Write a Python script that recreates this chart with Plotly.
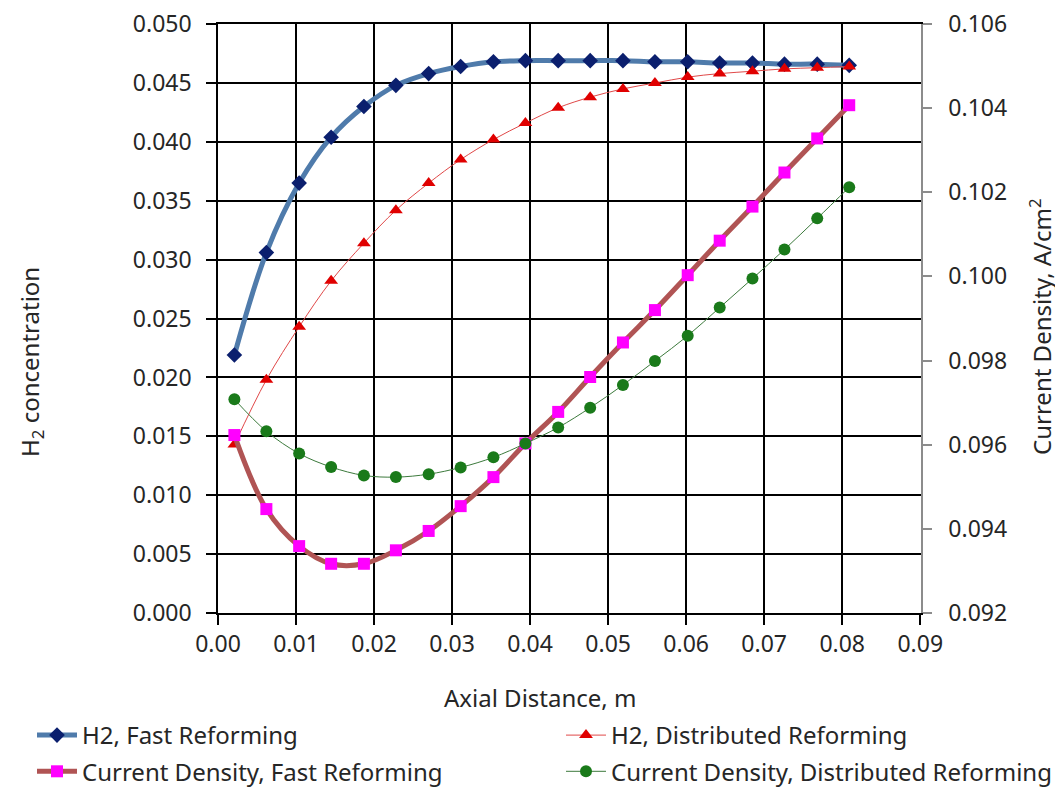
import plotly.graph_objects as go

# Axial positions (m)
x_m = [0.0021, 0.0062, 0.0104, 0.0145, 0.0187, 0.0228, 0.0270, 0.0311, 0.0353, 0.0394,
       0.0436, 0.0477, 0.0519, 0.0560, 0.0602, 0.0643, 0.0685, 0.0726, 0.0768, 0.0809]

# H2 concentration (left axis)
h2_fast = [0.0219, 0.0306, 0.0365, 0.0404, 0.0430, 0.0448, 0.0458, 0.0464, 0.0468, 0.0469,
           0.0469, 0.0469, 0.0469, 0.0468, 0.0468, 0.0467, 0.0467, 0.0466, 0.0466, 0.0465]
h2_dist = [0.0143, 0.0198, 0.0243, 0.0282, 0.0314, 0.0342, 0.0365, 0.0385, 0.0402, 0.0416,
           0.0429, 0.0438, 0.0445, 0.0450, 0.0455, 0.0458, 0.0460, 0.0462, 0.0463, 0.0464]

# Current density, A/cm2 (right axis)
cd_fast = [0.09623, 0.09447, 0.09359, 0.09317, 0.09317, 0.09349, 0.09395, 0.09454, 0.09523, 0.09603,
           0.09678, 0.09761, 0.09843, 0.09920, 0.10003, 0.10085, 0.10166, 0.10247, 0.10328, 0.10407]
cd_dist = [0.09708, 0.09632, 0.09579, 0.09547, 0.09527, 0.09523, 0.09530, 0.09546, 0.09570, 0.09603,
           0.09641, 0.09688, 0.09742, 0.09799, 0.09859, 0.09926, 0.09995, 0.10064, 0.10138, 0.10212]

x_ticks = [0.00, 0.01, 0.02, 0.03, 0.04, 0.05, 0.06, 0.07, 0.08, 0.09]
y_ticks = [0.000, 0.005, 0.010, 0.015, 0.020, 0.025, 0.030, 0.035, 0.040, 0.045, 0.050]
y2_ticks = [0.092, 0.094, 0.096, 0.098, 0.100, 0.102, 0.104, 0.106]

FONT = "Noto Sans"
TXT = "#262626"
FS_TICK = 23
FS_TEXT = 24
# the page body adds an 8px offset, so the figure is sized to fit the window
W, H = 1055, 783

fig = go.Figure()
fig.add_trace(go.Scatter(
    x=x_m, y=h2_fast, name="H2, Fast Reforming", mode="lines+markers",
    legend="legend", legendgroup="a",
    line=dict(color="#4f7bab", width=5, shape="spline"),
    marker=dict(symbol="diamond", size=12, color="#0b1f6e")))
fig.add_trace(go.Scatter(
    x=x_m, y=h2_dist, name="H2, Distributed Reforming", mode="lines+markers",
    legend="legend2", legendgroup="b",
    line=dict(color="#e04848", width=1, shape="spline"),
    marker=dict(symbol="triangle-up", size=12, color="#e00000")))
fig.add_trace(go.Scatter(
    x=x_m, y=cd_fast, name="Current Density, Fast Reforming", mode="lines+markers",
    yaxis="y2", legend="legend", legendgroup="c",
    line=dict(color="#b05454", width=5, shape="spline"),
    marker=dict(symbol="square", size=12, color="#ff00ff")))
fig.add_trace(go.Scatter(
    x=x_m, y=cd_dist, name="Current Density, Distributed Reforming", mode="lines+markers",
    yaxis="y2", legend="legend2", legendgroup="d",
    line=dict(color="#3c7a3c", width=1, shape="spline"),
    marker=dict(symbol="circle", size=12, color="#1a7a1a")))

legend_common = dict(
    orientation="v", xref="container", yref="container", xanchor="left", yanchor="top",
    y=1 - 705 / H, itemwidth=40, tracegroupgap=2,
    font=dict(family=FONT, size=FS_TEXT, color=TXT),
    bgcolor="rgba(0,0,0,0)", borderwidth=0,
)

plot_left, plot_right, plot_top, plot_bottom = 210, 913, 16, 605

fig.update_layout(
    width=W, height=H,
    margin=dict(l=plot_left, r=W - plot_right, t=plot_top, b=H - plot_bottom, autoexpand=False),
    paper_bgcolor="white", plot_bgcolor="white",
    font=dict(family=FONT, size=FS_TICK, color=TXT),
    showlegend=True,
    legend=dict(legend_common, x=24 / W),
    legend2=dict(legend_common, x=553 / W),
    xaxis=dict(
        range=[0, 0.0901], tickmode="array", tickvals=x_ticks, tickformat=".2f",
        showgrid=True, gridcolor="black", gridwidth=1.5,
        showline=True, linecolor="black", linewidth=1.5, mirror=True,
        ticks="outside", ticklen=10, tickcolor="black", tickwidth=1.5,
        zeroline=False, ticklabelstandoff=0, automargin=False, tickangle=0,
        ticklabeloverflow="allow",
    ),
    yaxis=dict(
        range=[0, 0.05001], tickmode="array", tickvals=y_ticks, tickformat=".3f",
        showgrid=True, gridcolor="black", gridwidth=1.5,
        showline=True, linecolor="black", linewidth=1.5,
        ticks="outside", ticklen=10, tickcolor="black", tickwidth=1.5,
        zeroline=False, ticklabelstandoff=10, automargin=False,
        ticklabeloverflow="allow",
    ),
    yaxis2=dict(
        range=[0.092, 0.106], tickmode="array", tickvals=y2_ticks, tickformat=".3f",
        overlaying="y", side="right", showgrid=False,
        showline=True, linecolor="#8c8c8c", linewidth=1.5,
        ticks="outside", ticklen=9, tickcolor="#8c8c8c", tickwidth=1.5,
        zeroline=False, ticklabelstandoff=12, automargin=False,
        ticklabeloverflow="allow",
    ),
)

# Axis titles placed in pixel terms relative to the plot area
pw, ph = plot_right - plot_left, plot_bottom - plot_top
def px_to_paper(px, py):
    return (px - plot_left) / pw, (plot_bottom - py) / ph

titles = [
    ("Axial Distance, m", 532, 689, 0),
    ("H<sub>2</sub> concentration", 23, 354, -90),
    ("Current Density, A/cm<sup>2</sup>", 1032, 319, -90),
]
for text, px, py, ang in titles:
    ax, ay = px_to_paper(px, py)
    fig.add_annotation(text=text, x=ax, y=ay, xref="paper", yref="paper",
                       xanchor="center", yanchor="middle", textangle=ang,
                       showarrow=False, font=dict(family=FONT, size=FS_TEXT, color=TXT))

fig.write_html("out.html")
